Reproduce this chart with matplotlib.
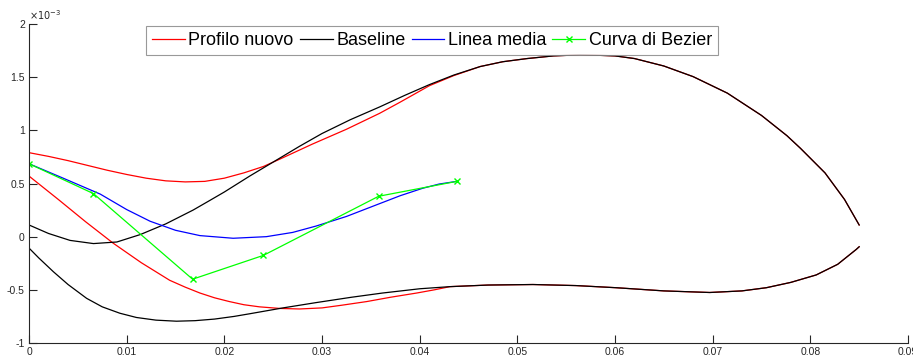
import numpy as np
import matplotlib
matplotlib.use("Agg")
import matplotlib.pyplot as plt
from matplotlib.ticker import FuncFormatter

plt.rcParams['font.family'] = ['Liberation Sans', 'DejaVu Sans']
plt.rcParams['axes.unicode_minus'] = False

# Baseline profile (y in units of 1e-3)
base_up_x = [0, 0.002, 0.0042, 0.0066, 0.009, 0.0114, 0.014, 0.0168, 0.0185, 0.02, 0.0226, 0.0257, 0.0277,
             0.03, 0.0329, 0.0359, 0.0385, 0.041, 0.0435, 0.0462, 0.0485, 0.051, 0.0537, 0.0564, 0.0585,
             0.06, 0.062, 0.065, 0.068, 0.0715, 0.075, 0.0776, 0.079, 0.0815, 0.0835, 0.085]
base_up_y = [0.11, 0.03, -0.035, -0.065, -0.05, 0.02, 0.12, 0.25, 0.34, 0.42, 0.57, 0.74, 0.85,
             0.97, 1.10, 1.22, 1.33, 1.43, 1.52, 1.60, 1.645, 1.675, 1.70, 1.71, 1.705,
             1.70, 1.675, 1.605, 1.505, 1.35, 1.14, 0.95, 0.83, 0.60, 0.35, 0.11]
base_lo_x = [0, 0.001, 0.0025, 0.004, 0.0059, 0.0075, 0.0093, 0.011, 0.013, 0.0151, 0.017, 0.019, 0.021,
             0.0226, 0.026, 0.0294, 0.033, 0.0362, 0.04, 0.0431, 0.047, 0.0516, 0.056, 0.0601, 0.065,
             0.0697, 0.073, 0.0755, 0.078, 0.0806, 0.0828, 0.0847, 0.085]
base_lo_y = [-0.107, -0.20, -0.33, -0.45, -0.58, -0.66, -0.72, -0.76, -0.785, -0.795, -0.79, -0.775, -0.75,
             -0.725, -0.67, -0.62, -0.57, -0.53, -0.49, -0.47, -0.455, -0.45, -0.46, -0.48, -0.51,
             -0.525, -0.51, -0.48, -0.43, -0.36, -0.26, -0.12, -0.095]

# New profile (merges with baseline towards the trailing edge)
new_up_x = [0, 0.002, 0.004, 0.006, 0.008, 0.01, 0.012, 0.014, 0.016, 0.018, 0.02, 0.022, 0.024, 0.0257,
            0.029, 0.0325, 0.0359, 0.038, 0.041, 0.0435, 0.0462, 0.0485, 0.051, 0.0537, 0.0564, 0.0585,
            0.06, 0.062, 0.065, 0.068, 0.0715, 0.075, 0.0776, 0.079, 0.0815, 0.0835, 0.085]
new_up_y = [0.79, 0.755, 0.715, 0.67, 0.625, 0.585, 0.55, 0.525, 0.515, 0.52, 0.55, 0.60, 0.66, 0.73,
            0.87, 1.01, 1.16, 1.265, 1.42, 1.515, 1.60, 1.645, 1.675, 1.70, 1.71, 1.705,
            1.70, 1.675, 1.605, 1.505, 1.35, 1.14, 0.95, 0.83, 0.60, 0.35, 0.11]
new_lo_x = [0, 0.0015, 0.003, 0.0058, 0.0086, 0.0115, 0.0144, 0.016, 0.0175, 0.019, 0.0205, 0.022, 0.0236,
            0.0257, 0.0277, 0.03, 0.032, 0.0346, 0.037, 0.0397, 0.0415, 0.0431, 0.047, 0.0516, 0.056,
            0.0601, 0.065, 0.0697, 0.073, 0.0755, 0.078, 0.0806, 0.0828, 0.0847, 0.085]
new_lo_y = [0.57, 0.46, 0.35, 0.14, -0.06, -0.245, -0.41, -0.475, -0.53, -0.575, -0.61, -0.64, -0.66,
            -0.675, -0.68, -0.67, -0.645, -0.61, -0.57, -0.53, -0.50, -0.47, -0.455, -0.45, -0.46,
            -0.48, -0.51, -0.525, -0.51, -0.48, -0.43, -0.36, -0.26, -0.12, -0.095]

# Camber line
mean_x = [0, 0.0035, 0.0073, 0.01, 0.0124, 0.015, 0.0175, 0.0209, 0.0243, 0.027, 0.0294, 0.0325, 0.0356,
          0.038, 0.0403, 0.042, 0.0438]
mean_y = [0.686, 0.55, 0.40, 0.255, 0.145, 0.06, 0.01, -0.015, 0.0, 0.04, 0.10, 0.19, 0.30,
          0.385, 0.455, 0.495, 0.52]

# Bezier control polygon
bez_x = [0, 0.0066, 0.01675, 0.024, 0.0358, 0.0438]
bez_y = [0.686, 0.405, -0.40, -0.176, 0.38, 0.52]

s = 1e-3
fig = plt.figure(figsize=(9.13, 3.58), dpi=100)
ax = fig.add_axes([29 / 913, 1 - 343 / 358, 879 / 913, 319 / 358])

lw = 0.9
ax.plot(new_up_x, np.array(new_up_y) * s, color='#ff0000', lw=lw, label='Profilo nuovo')
ax.plot(new_lo_x, np.array(new_lo_y) * s, color='#ff0000', lw=lw)
ax.plot(base_up_x, np.array(base_up_y) * s, color='black', lw=lw, label='Baseline')
ax.plot(base_lo_x, np.array(base_lo_y) * s, color='black', lw=lw)
ax.plot(mean_x, np.array(mean_y) * s, color='#0000ff', lw=lw, label='Linea media')
ax.plot(bez_x, np.array(bez_y) * s, color='#00ff00', lw=lw, marker='x', ms=4, mew=1,
        label='Curva di Bezier')

ax.set_xlim(0, 0.09)
ax.set_ylim(-1e-3, 2e-3)
ax.set_xticks(np.arange(0, 0.0901, 0.01))
ax.set_yticks(np.arange(-1e-3, 2.01e-3, 0.5e-3))
ax.xaxis.set_major_formatter(FuncFormatter(lambda v, p: '0' if abs(v) < 1e-9 else f'{v:g}'))
ax.yaxis.set_major_formatter(FuncFormatter(lambda v, p: '0' if abs(v) < 1e-9 else f'{v * 1e3:g}'))

gray = '#262626'
for side in ['top', 'right']:
    ax.spines[side].set_visible(False)
for side in ['left', 'bottom']:
    ax.spines[side].set_color(gray)
    ax.spines[side].set_linewidth(0.8)
ax.tick_params(direction='in', length=6, width=0.8, colors=gray, labelsize=7.5, pad=3)

ax.text(0.0, 1.005, r'$\times10^{-3}$', transform=ax.transAxes, fontsize=7, color=gray,
        ha='left', va='bottom')

leg = ax.legend(loc='upper left', bbox_to_anchor=(117 / 879, 0.995), ncol=4, fontsize=13,
                frameon=True, fancybox=False, edgecolor='#808080', handlelength=1.8,
                handletextpad=0.2, columnspacing=0.35, borderpad=0.35, borderaxespad=0.0)
leg.get_frame().set_linewidth(0.8)

fig.savefig('out.png', dpi=100)
